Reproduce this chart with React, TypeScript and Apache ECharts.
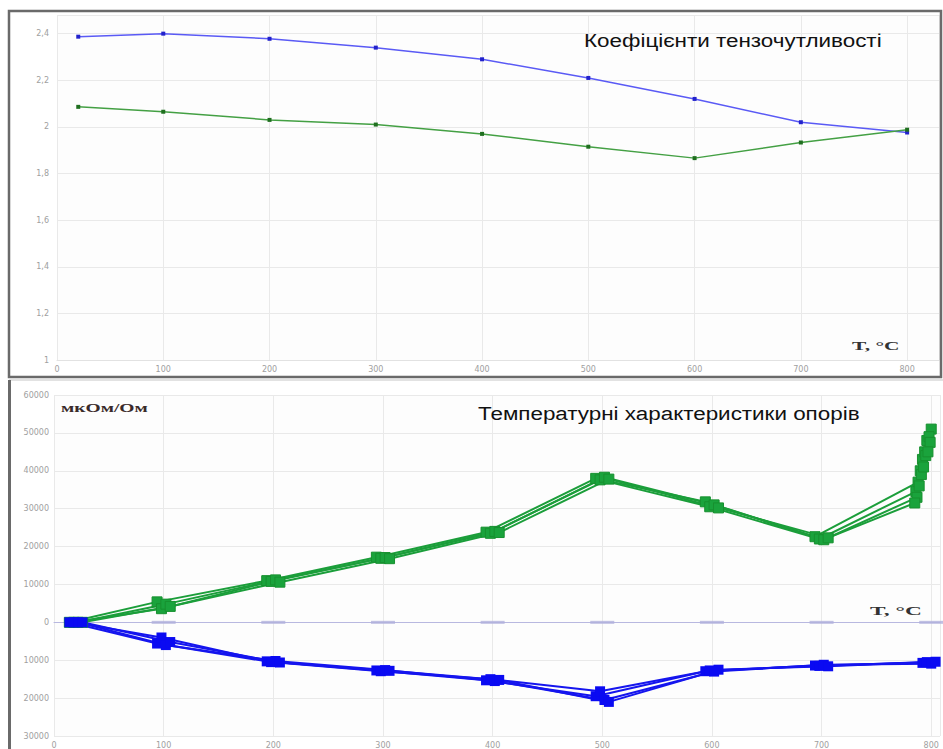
import React, { useEffect, useRef } from "react";
import * as echarts from "echarts";

// ---- Top panel: gauge factor (коефіцієнти тензочутливості) ----
const gaugeTemps = [20, 100, 200, 300, 400, 500, 600, 700, 800];
const gaugeFactorBlue = [2.387, 2.4, 2.378, 2.34, 2.29, 2.21, 2.12, 2.02, 1.976];
const gaugeFactorGreen = [2.086, 2.065, 2.03, 2.01, 1.97, 1.915, 1.866, 1.933, 1.988];

// ---- Bottom panel: resistance vs temperature, мкОм/Ом ----
const greenTempsA = [14, 94, 194, 294, 394, 494, 594, 694, 788, 792, 796, 800];
const greenValsA = [0, 5400, 11000, 17200, 23800, 38000, 31800, 22600, 37000, 43000, 48000, 51000];
const greenTempsB = [18, 98, 198, 298, 398, 498, 598, 698, 786, 790, 794, 798];
const greenValsB = [0, 3600, 10800, 16900, 23500, 37600, 30500, 22000, 34500, 40000, 45000, 49000];
const greenTempsC = [22, 102, 202, 302, 402, 502, 602, 702, 787, 791, 795, 799];
const greenValsC = [0, 4800, 11200, 17100, 24000, 38300, 31000, 21800, 33000, 39000, 44000, 47500];
const greenTempsD = [26, 106, 206, 306, 406, 506, 606, 706, 785, 789, 793, 797];
const greenValsD = [0, 4200, 10600, 16800, 23700, 37800, 30200, 22300, 31500, 36000, 41000, 45000];

const blueTempsA = [14, 94, 194, 294, 394, 494, 594, 694, 792];
const blueValsA = [0, -5600, -10300, -12700, -15300, -19500, -12900, -11400, -10700];
const blueTempsB = [18, 98, 198, 298, 398, 498, 598, 698, 796];
const blueValsB = [0, -4000, -10500, -12900, -15000, -18200, -12700, -11500, -10500];
const blueTempsC = [22, 102, 202, 302, 402, 502, 602, 702, 800];
const blueValsC = [0, -6000, -10200, -12600, -15500, -20500, -13000, -11200, -10900];
const blueTempsD = [26, 106, 206, 306, 406, 506, 606, 706, 804];
const blueValsD = [0, -5200, -10600, -12800, -15200, -21000, -12500, -11600, -10400];

const axisTickTemps = [100, 200, 300, 400, 500, 600, 700, 800];

const topTitle = "Коефіцієнти тензочутливості";
const bottomTitle = "Температурні характеристики опорів";
const unitLabel = "мкОм/Ом";
const tempLabel = "T, °C";

const zip = (xs: number[], ys: number[]) => xs.map((x, i) => [x, ys[i]]);

export default function App() {
  const ref = useRef<HTMLDivElement>(null);
  useEffect(() => {
    if (!ref.current) return;
    const chart = echarts.init(ref.current, undefined, { renderer: "svg" });
    const labelStyle = { color: "#a0a0a0", fontSize: 8, fontFamily: "DejaVu Sans" };
    const split = { show: true, lineStyle: { color: "#e9e9e9", width: 1 } };
    const greenSets = [
      [greenTempsA, greenValsA],
      [greenTempsB, greenValsB],
      [greenTempsC, greenValsC],
      [greenTempsD, greenValsD],
    ];
    const blueSets = [
      [blueTempsA, blueValsA],
      [blueTempsB, blueValsB],
      [blueTempsC, blueValsC],
      [blueTempsD, blueValsD],
    ];
    const sansTitle = "19px 'Liberation Sans', Arial, sans-serif";
    const serifLabel = "bold 13px 'Liberation Serif', serif";
    const option: any = {
      animation: false,
      backgroundColor: "#ffffff",
      grid: [
        { left: 57, top: 15, width: 882, height: 345, backgroundColor: "#fdfdfd", show: true, borderWidth: 0 },
        { left: 54, top: 395, width: 886, height: 346, backgroundColor: "#fdfdfd", show: true, borderWidth: 0 },
      ],
      xAxis: [
        {
          gridIndex: 0,
          type: "value",
          min: 0,
          max: 830,
          interval: 100,
          axisLine: { show: true, lineStyle: { color: "#e2e2e2" } },
          axisTick: { show: false },
          axisLabel: {
            ...labelStyle,
            margin: 5,
            formatter: (v: number) => (v % 100 === 0 ? String(v) : ""),
          },
          splitLine: split,
        },
        {
          gridIndex: 1,
          type: "value",
          min: 0,
          max: 808,
          interval: 100,
          axisLine: { show: true, onZero: true, lineStyle: { color: "#b8b8e0", width: 1 } },
          axisTick: { show: false },
          axisLabel: {
            ...labelStyle,
            margin: 5,
            formatter: (v: number) => (v % 100 === 0 ? String(v) : ""),
          },
          splitLine: split,
        },
      ],
      yAxis: [
        {
          gridIndex: 0,
          type: "value",
          min: 1,
          max: 2.48,
          interval: 0.2,
          axisLine: { show: false },
          axisTick: { show: false },
          axisLabel: {
            ...labelStyle,
            margin: 8,
            formatter: (v: number) =>
              Math.abs(v * 5 - Math.round(v * 5)) < 1e-6 ? String(Math.round(v * 10) / 10).replace(".", ",") : "",
          },
          splitLine: split,
        },
        {
          gridIndex: 1,
          type: "value",
          min: -30000,
          max: 60000,
          interval: 10000,
          axisLine: { show: false },
          axisTick: { show: false },
          axisLabel: {
            ...labelStyle,
            margin: 5,
            formatter: (v: number) => String(Math.abs(v)),
          },
          splitLine: split,
        },
      ],
      series: [
        {
          type: "line",
          xAxisIndex: 0,
          yAxisIndex: 0,
          data: zip(gaugeTemps, gaugeFactorBlue),
          symbol: "rect",
          symbolSize: 4,
          lineStyle: { color: "#5a5af5", width: 1.5 },
          itemStyle: { color: "#2222cc" },
        },
        {
          type: "line",
          xAxisIndex: 0,
          yAxisIndex: 0,
          data: zip(gaugeTemps, gaugeFactorGreen),
          symbol: "rect",
          symbolSize: 4,
          lineStyle: { color: "#44a044", width: 1.5 },
          itemStyle: { color: "#1f6f1f" },
        },
        {
          type: "scatter",
          xAxisIndex: 1,
          yAxisIndex: 1,
          data: axisTickTemps.map((t) => [t, 0]),
          symbol: "rect",
          symbolSize: [24, 3],
          itemStyle: { color: "#b0b0dc" },
          silent: true,
          z: 1,
        },
        ...greenSets.map(([xs, ys]) => ({
          type: "line",
          xAxisIndex: 1,
          yAxisIndex: 1,
          data: zip(xs, ys),
          symbol: "rect",
          symbolSize: 10,
          lineStyle: { color: "#1b9e3a", width: 2 },
          itemStyle: { color: "#1aa33c", borderColor: "#17902f", borderWidth: 1 },
          z: 3,
        })),
        ...blueSets.map(([xs, ys]) => ({
          type: "line",
          xAxisIndex: 1,
          yAxisIndex: 1,
          data: zip(xs, ys),
          symbol: "rect",
          symbolSize: 10,
          lineStyle: { color: "#1515ee", width: 2 },
          itemStyle: { color: "#0a0af2" },
          z: 3,
        })),
      ],
      graphic: [
        {
          type: "rect",
          shape: { x: 9, y: 11, width: 932, height: 366 },
          style: { fill: "none", stroke: "#6a6a6a", lineWidth: 2.5 },
          z: 10,
        },
        {
          type: "line",
          shape: { x1: 9, y1: 380, x2: 943, y2: 380 },
          style: { stroke: "#d8d8d8", lineWidth: 1.5 },
          z: 10,
        },
        {
          type: "line",
          shape: { x1: 9.5, y1: 380, x2: 9.5, y2: 749 },
          style: { stroke: "#6a6a6a", lineWidth: 3 },
          z: 10,
        },
        {
          type: "text",
          x: 584,
          y: 40,
          scaleX: 1.18,
          style: { text: topTitle, fill: "#111", font: sansTitle, verticalAlign: "middle" },
          z: 10,
        },
        {
          type: "text",
          x: 478,
          y: 413,
          scaleX: 1.18,
          style: { text: bottomTitle, fill: "#111", font: sansTitle, verticalAlign: "middle" },
          z: 10,
        },
        {
          type: "text",
          x: 61,
          y: 408,
          scaleX: 1.5,
          style: { text: unitLabel, fill: "#3a2a2a", font: serifLabel, verticalAlign: "middle" },
          z: 10,
        },
        {
          type: "text",
          x: 852,
          y: 346,
          scaleX: 1.65,
          style: { text: tempLabel, fill: "#333", font: serifLabel, verticalAlign: "middle" },
          z: 10,
        },
        {
          type: "text",
          x: 870,
          y: 611,
          scaleX: 1.8,
          style: { text: tempLabel, fill: "#333", font: serifLabel, verticalAlign: "middle" },
          z: 10,
        },
      ],
    };
    chart.setOption(option);
    return () => chart.dispose();
  }, []);
  return (
    <div
      ref={ref}
      style={{ position: "fixed", left: 0, top: 0, width: 943, height: 749, background: "#fff" }}
    />
  );
}
